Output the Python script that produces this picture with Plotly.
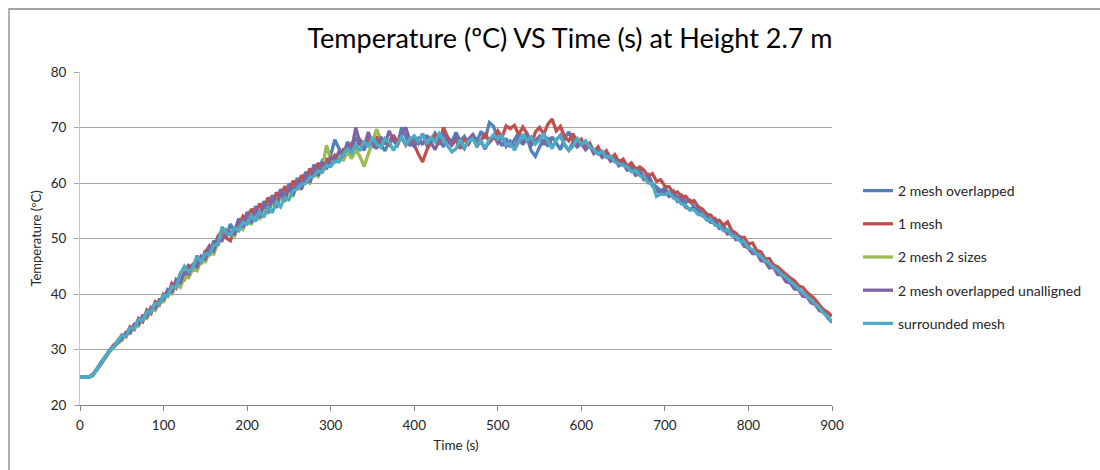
import plotly.graph_objects as go

# time axis: 0..900 s every 5 s
time_s = list(range(0, 905, 5))
time_green = list(range(0, 370, 5))

series_names = ["2 mesh overlapped", "1 mesh", "2 mesh 2 sizes",
                "2 mesh overlapped unalligned", "surrounded mesh"]
series_colors = ["#4F81BD", "#C0504D", "#9BBB59", "#8064A2", "#4BACC6"]

mesh2_overlapped = [
    25, 25, 25, 25.3, 26.5, 27.7, 28.6, 29.9, 30.5, 31.6,
    32.4, 32.6, 34.0, 33.7, 35.3, 35.2, 36.9, 36.6, 38.4, 38.2,
    39.9, 39.8, 41.8, 41.2, 43.6, 42.9, 45.3, 44.1, 46.6, 45.4,
    47.9, 46.9, 49.6, 48.7, 51.4, 50.3, 52.6, 51.2, 53.6, 52.3,
    54.8, 53.3, 55.8, 54.2, 56.7, 55.3, 57.8, 56.3, 58.9, 57.4,
    59.9, 58.4, 60.9, 59.5, 62.0, 60.8, 63.3, 62.0, 64.0, 63.4,
    65.0, 67.8, 66.2, 64.8, 67.4, 66.1, 68.2, 67.0, 65.9, 67.8,
    66.4, 68.1, 67.0, 65.8, 67.5, 68.6, 66.9, 70.0, 68.3, 66.7,
    68.0, 67.1, 68.9, 66.8, 67.6, 69.0, 67.9, 66.5, 68.2, 67.4,
    69.1, 67.6, 68.4, 66.9, 68.8, 67.5, 69.3, 68.0, 70.9, 70.2,
    68.1, 66.7, 68.0, 66.5, 67.8, 69.0, 66.9, 68.2, 65.8, 64.8,
    66.5, 67.9, 66.6, 68.3, 67.2, 66.0, 68.1, 69.2, 67.6, 68.0,
    67.0, 66.3, 66.9, 65.4, 66.0, 64.9, 65.5, 64.2, 64.7, 63.3,
    63.9, 62.6, 63.1, 61.8, 62.4, 61.0, 61.5, 59.9, 59.3, 58.6,
    59.1, 58.0, 58.6, 57.2, 57.8, 56.5, 56.9, 55.6, 55.1, 54.6,
    54.1, 53.2, 53.6, 52.1, 52.5, 51.0, 51.4, 49.8, 49.9, 48.6,
    48.6, 47.4, 47.6, 46.2, 46.2, 44.9, 45.0, 43.7, 43.6, 42.4,
    42.3, 41.0, 41.0, 39.7, 39.8, 38.5, 38.3, 37.1, 36.9, 35.8,
    35.0,
]

mesh1 = [
    25, 25, 25, 25.5, 26.3, 27.4, 28.7, 29.6, 30.8, 31.2,
    32.6, 32.3, 34.1, 33.6, 35.6, 35.0, 37.1, 36.5, 38.6, 38.0,
    40.0, 39.6, 41.9, 41.1, 43.5, 42.7, 45.0, 44.2, 46.9, 45.6,
    47.5, 48.7, 47.9, 50.4, 51.3, 50.1, 49.6, 51.9, 52.3, 54.0,
    53.2, 55.3, 54.3, 56.3, 55.1, 57.4, 56.1, 58.3, 57.0, 59.4,
    58.3, 60.4, 59.2, 61.4, 60.3, 62.6, 61.5, 63.6, 62.6, 64.3,
    63.8, 65.0, 64.4, 66.0, 65.5, 67.1, 66.3, 67.8, 66.9, 68.0,
    67.1, 68.4, 66.6, 67.9, 66.9, 68.6, 67.4, 68.1, 66.8, 67.9,
    66.9, 65.2, 63.8, 65.9, 67.3, 68.8, 66.9, 70.0, 68.2, 66.8,
    67.8, 66.2, 68.0, 67.0, 68.6, 66.5, 67.7, 69.0, 67.3, 68.2,
    69.4, 68.2, 70.3, 69.8, 70.4, 68.7, 70.1, 68.9, 66.8, 69.2,
    70.0, 68.8, 70.6, 71.5, 69.4, 70.2, 68.3, 67.6, 68.9, 67.2,
    67.9, 66.4, 67.2, 65.7, 66.5, 65.0, 65.8, 64.4, 65.1, 63.8,
    64.3, 63.0, 63.6, 62.5, 62.9, 62.3, 61.2, 61.7, 60.3, 60.6,
    59.4, 59.3, 58.2, 58.4, 57.5, 57.6, 56.6, 56.8, 55.7, 55.3,
    54.4, 54.2, 53.2, 53.3, 52.4, 53.0, 51.4, 51.0, 50.1, 50.2,
    49.0, 49.2, 47.8, 47.6, 46.3, 46.4, 45.2, 44.9, 44.2, 43.5,
    42.9, 42.4, 41.5, 41.2, 40.3, 39.7, 39.0, 38.0, 37.2, 36.7,
    36.0,
]

mesh2_sizes = [
    25, 25, 25, 25.2, 26.2, 27.3, 28.4, 29.5, 30.3, 31.1,
    31.6, 32.7, 32.9, 34.3, 34.2, 35.7, 35.6, 37.2, 37.0, 38.5,
    38.6, 40.1, 40.0, 41.6, 41.2, 43.1, 42.9, 44.5, 44.2, 46.0,
    45.8, 47.5, 47.2, 49.2, 49.8, 51.6, 51.0, 50.5, 52.4, 51.6,
    53.4, 52.5, 54.6, 53.4, 55.6, 54.4, 56.6, 55.5, 57.6, 56.6,
    58.6, 57.8, 59.8, 58.8, 60.9, 60.0, 62.0, 61.2, 62.6, 66.8,
    64.2, 63.9, 65.1, 64.0, 65.6, 64.4, 66.0, 64.8, 63.0, 65.2,
    67.5, 69.7, 67.8, 66.9,
]

mesh2_unaligned = [
    25, 25, 25, 25.4, 26.3, 27.4, 28.5, 29.7, 30.5, 31.3,
    32.0, 33.1, 33.0, 34.6, 34.5, 36.1, 35.9, 37.6, 37.4, 39.0,
    39.0, 40.8, 40.4, 42.6, 42.0, 43.9, 43.6, 45.3, 44.9, 46.8,
    46.3, 48.4, 47.8, 49.9, 49.6, 51.4, 51.2, 50.8, 53.4, 52.0,
    54.4, 52.8, 55.3, 53.8, 56.3, 54.7, 57.2, 55.6, 58.4, 56.8,
    59.4, 57.8, 60.4, 58.9, 61.5, 60.1, 62.7, 61.3, 63.8, 62.5,
    64.6, 64.1, 65.7, 65.0, 66.8, 65.9, 70.0, 67.2, 66.4, 69.2,
    67.1, 66.2, 68.3, 67.0, 69.4, 67.6, 66.8, 68.9, 70.0, 67.4,
    66.6, 68.0, 66.9, 68.6, 67.2, 66.0, 67.7, 68.9, 67.5, 66.9,
    68.3, 67.1, 66.2, 67.9, 68.7, 66.8, 67.4, 66.1, 67.8, 68.6,
    67.2, 68.4, 66.6, 67.5, 66.3, 68.1, 67.0, 68.9, 66.8, 67.6,
    68.4, 66.9, 68.2, 66.4, 67.7, 68.6, 66.8, 65.9, 67.3, 66.5,
    67.2, 66.0, 66.7, 65.3, 65.8, 64.6, 65.1, 63.9, 64.3, 63.1,
    63.5, 62.3, 62.6, 61.4, 61.8, 60.6, 60.9, 59.5, 58.6, 58.3,
    58.6, 57.6, 58.0, 56.7, 57.0, 55.6, 55.3, 55.5, 54.5, 54.1,
    53.6, 52.9, 53.1, 51.8, 51.9, 50.8, 51.0, 49.9, 50.3, 48.7,
    48.2, 47.3, 47.3, 46.0, 45.9, 44.7, 44.8, 43.5, 43.4, 42.2,
    42.0, 40.9, 40.8, 39.6, 39.5, 38.4, 38.1, 37.0, 36.7, 35.7,
    34.9,
]

surrounded = [
    25, 25, 25, 25.3, 26.4, 27.6, 28.5, 29.8, 30.4, 31.5,
    32.5, 32.4, 33.9, 33.8, 35.4, 35.3, 36.8, 36.8, 38.3, 38.2,
    39.8, 39.6, 41.4, 41.2, 43.6, 45.0, 44.0, 44.7, 46.8, 45.8,
    47.3, 47.2, 48.8, 48.9, 52.1, 51.0, 50.6, 51.9, 51.4, 52.9,
    52.6, 54.1, 53.1, 54.9, 53.8, 55.8, 54.6, 56.6, 55.7, 57.4,
    57.0, 58.6, 58.9, 59.8, 59.9, 61.0, 61.2, 62.2, 61.9, 63.2,
    63.0, 63.9, 63.8, 65.2, 66.1, 65.4, 66.9, 65.8, 67.6, 66.5,
    68.2, 67.0, 66.4, 68.0, 67.4, 65.9, 67.2, 68.3, 67.0, 67.9,
    68.5, 67.5, 68.8, 67.1, 68.2, 67.4, 68.9, 67.8, 66.9, 65.6,
    66.2, 67.8, 66.4, 67.5, 68.0, 66.7, 67.6, 66.3, 67.8, 68.7,
    67.9, 68.5, 66.9, 67.2, 65.9, 67.4, 68.8, 67.6, 68.3, 67.0,
    67.7, 68.8, 67.5, 66.2, 67.9, 68.4, 67.0, 65.9, 66.6, 68.0,
    66.9, 67.6, 66.5, 66.0, 65.2, 65.7, 64.6, 64.8, 63.8, 63.5,
    63.3, 62.9, 62.0, 62.3, 61.3, 61.1, 60.0, 59.9, 57.6, 58.0,
    57.9, 58.3, 57.3, 57.0, 56.2, 56.0, 55.1, 55.2, 54.3, 54.4,
    53.3, 53.4, 52.4, 52.3, 51.4, 51.6, 50.5, 50.4, 49.5, 49.4,
    48.3, 48.0, 47.2, 46.8, 46.0, 45.5, 44.8, 44.3, 43.5, 43.0,
    42.3, 41.7, 40.9, 40.3, 39.6, 38.9, 38.2, 37.5, 36.5, 35.9,
    35.0,
]

x_ticks = [0, 100, 200, 300, 400, 500, 600, 700, 800, 900]
y_ticks = [20, 30, 40, 50, 60, 70, 80]

FONT = "Lato"
TXT = "#262626"

fig = go.Figure()
xs = [time_s, time_s, time_green, time_s, time_s]
ys = [mesh2_overlapped, mesh1, mesh2_sizes, mesh2_unaligned, surrounded]
for name, color, x, y in zip(series_names, series_colors, xs, ys):
    fig.add_trace(go.Scatter(
        x=x, y=y, mode="lines", name=name, legendgroup=name,
        line=dict(color=color, width=3.3),
    ))

# outer chart frame
L, R, T, B = 80, 832, 72, 405
W, H = R - L, B - T
fig.add_shape(type="rect", xref="paper", yref="paper",
              x0=(9 - L) / W, x1=(1108 - L) / W,
              y0=(B - 478) / H, y1=(B - 9) / H,
              line=dict(color="#868686", width=1.3), layer="below")

fig.update_layout(
    width=1100, height=470, autosize=False,
    margin=dict(l=L, r=1100 - R, t=T, b=470 - B),
    paper_bgcolor="white", plot_bgcolor="white",
    font=dict(family=FONT, color=TXT),
    title=dict(text="Temperature (ºC) VS Time (s) at Height 2.7 m",
               x=570 / 1100, xanchor="center", xref="container",
               y=1 - 39 / 470, yanchor="middle", yref="container",
               font=dict(family=FONT, size=27, color="#000000")),
    showlegend=True,
    legend=dict(x=(858 - L) / W, xanchor="left", xref="paper",
                y=(B - 257) / H, yanchor="middle", yref="paper",
                traceorder="grouped", tracegroupgap=12,
                font=dict(family=FONT, size=14, color=TXT),
                bgcolor="rgba(0,0,0,0)", borderwidth=0),
    xaxis=dict(range=[0, 900], tickvals=x_ticks, showgrid=False, zeroline=False,
               showline=True, linecolor="#868686", linewidth=1,
               ticks="outside", ticklen=5, tickcolor="#868686",
               tickfont=dict(family=FONT, size=13.5, color=TXT),
               ticklabelstandoff=3,
               title=dict(text="Time (s)", standoff=8,
                          font=dict(family=FONT, size=13.5, color=TXT))),
    yaxis=dict(range=[20, 80], tickvals=y_ticks, showgrid=True,
               gridcolor="#a6a6a6", gridwidth=1, zeroline=False,
               showline=True, linecolor="#c8c8c8", linewidth=1,
               ticks="outside", ticklen=5, tickcolor="#a6a6a6",
               tickfont=dict(family=FONT, size=13.5, color=TXT),
               ticklabelstandoff=5,
               title=dict(text="Temperature (ºC)", standoff=6,
                          font=dict(family=FONT, size=13, color=TXT))),
)

fig.write_html("out.html")
